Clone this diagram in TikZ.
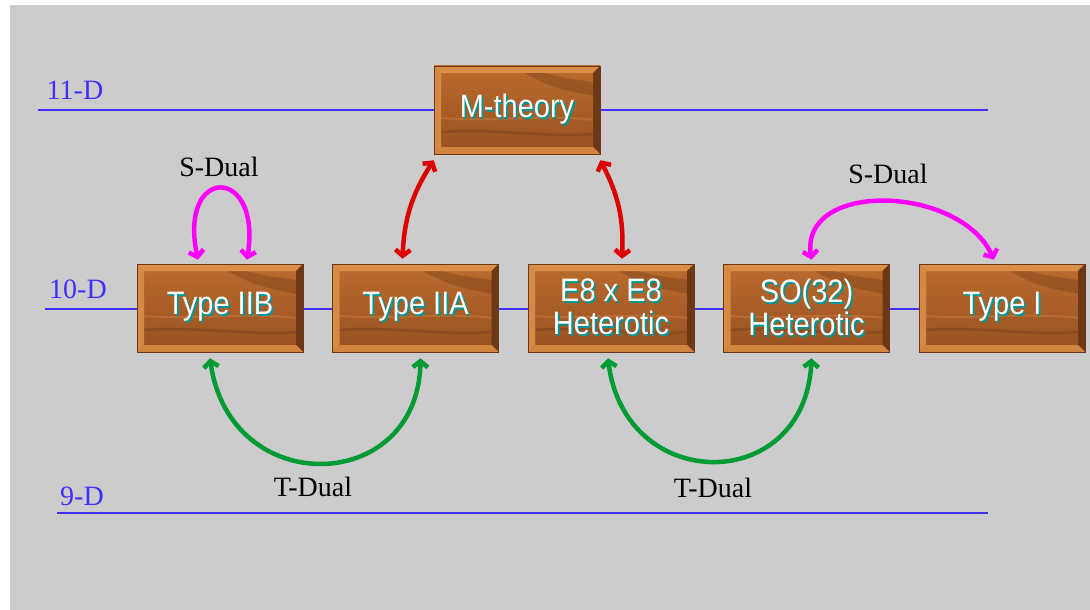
\documentclass[tikz,border=0pt]{standalone}
\usepackage{fontspec}
\setmainfont{Liberation Serif}
\setsansfont{Liberation Sans}
\usepackage{xcolor}
\usetikzlibrary{arrows, arrows.meta, positioning}
\definecolor{bggray}{RGB}{204,204,204}
\definecolor{dimblue}{RGB}{64,48,255}
\definecolor{wood}{RGB}{188,108,46}
\definecolor{woodlite}{RGB}{218,142,72}
\definecolor{wooddark}{RGB}{108,56,24}
\definecolor{woodgrain}{RGB}{150,80,32}
\definecolor{shadowteal}{RGB}{0,150,150}
\definecolor{spink}{RGB}{255,0,255}
\definecolor{mred}{RGB}{220,0,0}
\definecolor{tgreen}{RGB}{0,155,50}
\newcommand{\woodtext}[1]{\scalebox{1}[1.12]{\makebox[0pt][l]{\hspace{1.8pt}\raisebox{-1.8pt}{\textcolor{shadowteal}{#1}}}\textcolor{white}{#1}}}
\newcommand{\bevel}{%
  \coordinate (nw) at (path picture bounding box.north west);
  \coordinate (ne) at (path picture bounding box.north east);
  \coordinate (sw) at (path picture bounding box.south west);
  \coordinate (se) at (path picture bounding box.south east);
  % grain
  \fill [wooddark, opacity=0.35] ([shift={(90pt,-7pt)}]nw) .. controls ([shift={(120pt,-22pt)}]nw) .. ([shift={(160pt,-30pt)}]nw) -- ([shift={(160pt,-16pt)}]nw) .. controls ([shift={(130pt,-12pt)}]nw) .. ([shift={(110pt,-7pt)}]nw) -- cycle;
  \draw [wooddark, opacity=0.35, line width=2.5pt] ([shift={(7pt,-66pt)}]nw) .. controls ([shift={(60pt,-62pt)}]nw) and ([shift={(110pt,-72pt)}]nw) .. ([shift={(160pt,-68pt)}]nw);
  \draw [woodlite, opacity=0.35, line width=2pt] ([shift={(7pt,-52pt)}]nw) .. controls ([shift={(60pt,-56pt)}]nw) and ([shift={(110pt,-48pt)}]nw) .. ([shift={(160pt,-54pt)}]nw);
  % bevel
  \fill [woodlite] (nw) -- (ne) -- ([shift={(-7pt,-7pt)}]ne) -- ([shift={(7pt,-7pt)}]nw) -- cycle;
  \fill [woodlite!85!wood] (nw) -- ([shift={(7pt,-7pt)}]nw) -- ([shift={(7pt,7pt)}]sw) -- (sw) -- cycle;
  \fill [wooddark] (ne) -- (se) -- ([shift={(-7pt,7pt)}]se) -- ([shift={(-7pt,-7pt)}]ne) -- cycle;
  \fill [woodlite!70!wood] (sw) -- ([shift={(7pt,7pt)}]sw) -- ([shift={(-7pt,7pt)}]se) -- (se) -- cycle;}
\tikzstyle{every node}=[font=\fontsize{28}{30}\selectfont]
\tikzstyle{block} = [rectangle, draw=wooddark, line width=0.6pt, top color=wood, bottom color=woodgrain, minimum width=166pt, minimum height=88pt, inner sep=0pt, align=center, font=\sffamily\fontsize{29}{33}\selectfont, node distance=195.5pt, path picture={\bevel}]
\tikzstyle{level} = [draw=dimblue, line width=1.6pt]
\tikzstyle{dimlabel} = [text=dimblue]
\tikzstyle{dual} = [text=black]
\tikzstyle{hand} = [line width=4.5pt, {Straight Barb[length=6pt,width=15pt]}-{Straight Barb[length=6pt,width=15pt]}]
\tikzstyle{mlink} = [draw=mred, hand]
\tikzstyle{slink} = [draw=spink, hand]
\tikzstyle{tlink} = [draw=tgreen, hand]

\begin{document}
\begin{tikzpicture}[x=1pt, y=-1pt]
    % Canvas
    \useasboundingbox (0,0) rectangle (1090,610);
    \fill [bggray] (10,5) rectangle (1090,610);
    % Dimension levels
    \draw [level] (38,110) -- (988,110);
    \draw [level] (45,309) -- (919,309);
    \draw [level] (57,513) -- (988,513);
    \node [dimlabel] (d11) at (75,90) {11-D};
    \node [dimlabel] (d10) at (78,289) {10-D};
    \node [dimlabel] (d9) at (82,496) {9-D};
    % Place nodes
    \node [block] (m) at (517,110) {\woodtext{M-theory}};
    \node [block] (iib) at (220,308) {\woodtext{Type IIB}};
    \node [block, right of=iib] (iia) {\woodtext{Type IIA}};
    \node [block, right of=iia] (e8) {\woodtext{E8 x E8}\\\woodtext{Heterotic}};
    \node [block, right of=e8] (so32) {\woodtext{SO(32)}\\\woodtext{Heterotic}};
    \node [block, right of=so32] (typei) {\woodtext{Type I}};
    \node [dual] (s1) at (219,167) {S-Dual};
    \node [dual] (s2) at (888,174) {S-Dual};
    \node [dual] (t1) at (313,487) {T-Dual};
    \node [dual] (t2) at (713,488) {T-Dual};
    % Draw edges
    \path [mlink] ([shift={(-13pt,5pt)}]iia.north) to[bend left=15] ([yshift=-6pt]m.south west);
    \path [mlink] ([yshift=-6pt]m.south east) to[bend left=15] ([shift={(11pt,5pt)}]e8.north);
    \path [slink] ([shift={(-22pt,4pt)}]iib.north) .. controls (178,165) and (262,165) .. ([shift={(27pt,4pt)}]iib.north);
    \path [slink] ([shift={(5pt,4pt)}]so32.north) .. controls (800,180) and (960,185) .. ([shift={(-8pt,4pt)}]typei.north);
    \path [tlink] ([shift={(-10pt,-6pt)}]iib.south) .. controls (230,500) and (418,495) .. ([shift={(5pt,-6pt)}]iia.south);
    \path [tlink] ([shift={(-3pt,-6pt)}]e8.south) .. controls (625,495) and (805,495) .. ([shift={(5pt,-6pt)}]so32.south);
\end{tikzpicture}
\end{document}
